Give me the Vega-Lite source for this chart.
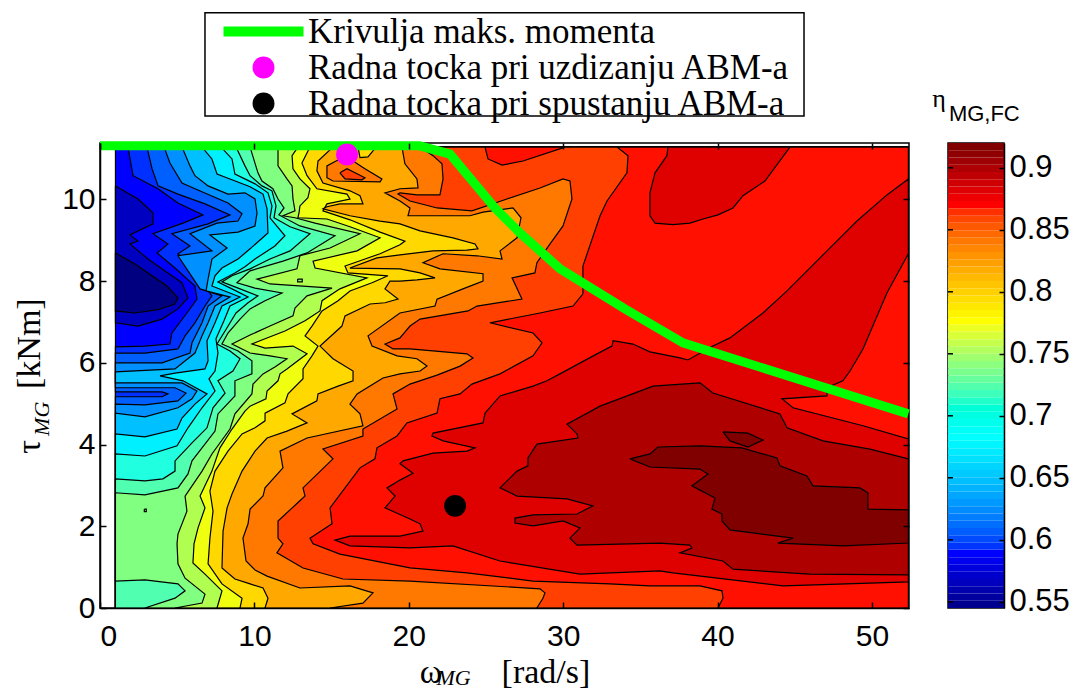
{"$schema":"https://vega.github.io/schema/vega-lite/v6.json","background":"white","padding":{"left":11,"top":11,"right":2,"bottom":5},"bounds":"flush","spacing":39,
"config":{"view":{"stroke":"black","strokeWidth":1.5},"axis":{"grid":false,"domainColor":"black","domainWidth":1.5,"tickColor":"black","tickWidth":1.5,"labelColor":"black","labelFont":"Liberation Sans","labelFontSize":30,"titleFont":"Liberation Serif","titleFontSize":34,"titleFontWeight":"normal","titleColor":"black"}},
"datasets":{
"curve":[{"w":0,"t":11.31},{"w":20.7,"t":11.31},{"w":22.67,"t":11.11},{"w":25.58,"t":9.79},{"w":27.2,"t":9.18},{"w":29.8,"t":8.3},{"w":34,"t":7.32},{"w":37.76,"t":6.49},{"w":52.36,"t":4.75}],
"points":[{"series":"Radna tocka pri uzdizanju ABM-a","w":16,"t":11.1},{"series":"Radna tocka pri spustanju ABM-a","w":23,"t":2.5}],
"barticks":[{"v":0.55},{"v":0.6},{"v":0.65},{"v":0.7},{"v":0.75},{"v":0.8},{"v":0.85},{"v":0.9}],
"bar":[{"lo":0.545,"hi":0.5509},{"lo":0.5509,"hi":0.5567},{"lo":0.5567,"hi":0.5626},{"lo":0.5626,"hi":0.5684},{"lo":0.5684,"hi":0.5743},{"lo":0.5743,"hi":0.5802},{"lo":0.5802,"hi":0.586},{"lo":0.586,"hi":0.5919},{"lo":0.5919,"hi":0.5977},{"lo":0.5977,"hi":0.6036},{"lo":0.6036,"hi":0.6095},{"lo":0.6095,"hi":0.6153},{"lo":0.6153,"hi":0.6212},{"lo":0.6212,"hi":0.627},{"lo":0.627,"hi":0.6329},{"lo":0.6329,"hi":0.6388},{"lo":0.6388,"hi":0.6446},{"lo":0.6446,"hi":0.6505},{"lo":0.6505,"hi":0.6563},{"lo":0.6563,"hi":0.6622},{"lo":0.6622,"hi":0.6681},{"lo":0.6681,"hi":0.6739},{"lo":0.6739,"hi":0.6798},{"lo":0.6798,"hi":0.6856},{"lo":0.6856,"hi":0.6915},{"lo":0.6915,"hi":0.6974},{"lo":0.6974,"hi":0.7032},{"lo":0.7032,"hi":0.7091},{"lo":0.7091,"hi":0.7149},{"lo":0.7149,"hi":0.7208},{"lo":0.7208,"hi":0.7267},{"lo":0.7267,"hi":0.7325},{"lo":0.7325,"hi":0.7384},{"lo":0.7384,"hi":0.7442},{"lo":0.7442,"hi":0.7501},{"lo":0.7501,"hi":0.756},{"lo":0.756,"hi":0.7618},{"lo":0.7618,"hi":0.7677},{"lo":0.7677,"hi":0.7735},{"lo":0.7735,"hi":0.7794},{"lo":0.7794,"hi":0.7853},{"lo":0.7853,"hi":0.7911},{"lo":0.7911,"hi":0.797},{"lo":0.797,"hi":0.8028},{"lo":0.8028,"hi":0.8087},{"lo":0.8087,"hi":0.8146},{"lo":0.8146,"hi":0.8204},{"lo":0.8204,"hi":0.8263},{"lo":0.8263,"hi":0.8321},{"lo":0.8321,"hi":0.838},{"lo":0.838,"hi":0.8439},{"lo":0.8439,"hi":0.8497},{"lo":0.8497,"hi":0.8556},{"lo":0.8556,"hi":0.8614},{"lo":0.8614,"hi":0.8673},{"lo":0.8673,"hi":0.8732},{"lo":0.8732,"hi":0.879},{"lo":0.879,"hi":0.8849},{"lo":0.8849,"hi":0.8907},{"lo":0.8907,"hi":0.8966},{"lo":0.8966,"hi":0.9025},{"lo":0.9025,"hi":0.9083},{"lo":0.9083,"hi":0.9142},{"lo":0.9142,"hi":0.92}],
"contours":[
{"p":0,"w":1,"t":0},{"p":0,"w":1,"t":11.28},{"p":0,"w":52.36,"t":11.28},{"p":0,"w":52.36,"t":0},{"p":0,"w":1,"t":0},
{"p":1,"w":1,"t":10.33},{"p":1,"w":2.46,"t":10.01},{"p":1,"w":3.43,"t":9.67},{"p":1,"w":3.43,"t":9.4},{"p":1,"w":1.94,"t":9.13},{"p":1,"w":2.46,"t":8.98},{"p":1,"w":1.94,"t":8.91},{"p":1,"w":3.11,"t":8.54},{"p":1,"w":4.4,"t":8.2},{"p":1,"w":5.31,"t":7.96},{"p":1,"w":5.7,"t":7.59},{"p":1,"w":5.05,"t":7.32},{"p":1,"w":4.02,"t":7.07},{"p":1,"w":2.46,"t":6.9},{"p":1,"w":1,"t":6.98},{"p":1,"w":1,"t":10.33},
{"p":2,"w":1,"t":8.69},{"p":2,"w":2.27,"t":8.42},{"p":2,"w":3.37,"t":8.13},{"p":2,"w":4.34,"t":7.88},{"p":2,"w":5.05,"t":7.59},{"p":2,"w":4.86,"t":7.44},{"p":2,"w":3.76,"t":7.3},{"p":2,"w":2.27,"t":7.22},{"p":2,"w":1,"t":7.27},{"p":2,"w":1,"t":8.69},
{"p":3,"w":1.81,"t":11.28},{"p":3,"w":2.14,"t":10.58},{"p":3,"w":3.76,"t":10.26},{"p":3,"w":5.05,"t":9.91},{"p":3,"w":6.67,"t":9.62},{"p":3,"w":5.38,"t":9.42},{"p":3,"w":3.43,"t":9.16},{"p":3,"w":4.4,"t":8.91},{"p":3,"w":3.69,"t":8.69},{"p":3,"w":4.86,"t":8.32},{"p":3,"w":6.15,"t":7.88},{"p":3,"w":6.28,"t":7.56},{"p":3,"w":5.63,"t":7.22},{"p":3,"w":4.66,"t":6.73},{"p":3,"w":4.53,"t":6.46},{"p":3,"w":2.91,"t":6.41},{"p":3,"w":1,"t":6.39},{"p":3,"w":1,"t":0},{"p":3,"w":52.36,"t":0},{"p":3,"w":52.36,"t":11.28},{"p":3,"w":1.81,"t":11.28},
{"p":4,"w":3.04,"t":11.28},{"p":4,"w":3.37,"t":10.75},{"p":4,"w":3.76,"t":10.33},{"p":4,"w":5.05,"t":10.13},{"p":4,"w":6.8,"t":9.89},{"p":4,"w":8.42,"t":9.62},{"p":4,"w":7,"t":9.4},{"p":4,"w":4.66,"t":9.16},{"p":4,"w":5.83,"t":8.86},{"p":4,"w":5.05,"t":8.67},{"p":4,"w":5.96,"t":8.32},{"p":4,"w":6.8,"t":7.88},{"p":4,"w":7.25,"t":7.64},{"p":4,"w":6.8,"t":7.39},{"p":4,"w":6.15,"t":6.98},{"p":4,"w":5.51,"t":6.66},{"p":4,"w":5.05,"t":6.34},{"p":4,"w":2.91,"t":6.24},{"p":4,"w":1,"t":6.24},{"p":4,"w":1,"t":5.29},{"p":4,"w":4.02,"t":5.29},{"p":4,"w":4.4,"t":5.24},{"p":4,"w":4.02,"t":5.17},{"p":4,"w":1,"t":5.17},{"p":4,"w":1,"t":0},{"p":4,"w":52.36,"t":0},{"p":4,"w":52.36,"t":11.28},{"p":4,"w":3.04,"t":11.28},
{"p":5,"w":4.15,"t":11.28},{"p":5,"w":4.53,"t":10.89},{"p":5,"w":5.31,"t":10.4},{"p":5,"w":6.15,"t":10.26},{"p":5,"w":8.29,"t":9.91},{"p":5,"w":9.2,"t":9.65},{"p":5,"w":8.94,"t":9.47},{"p":5,"w":7.58,"t":9.42},{"p":5,"w":5.83,"t":9.16},{"p":5,"w":7.25,"t":8.74},{"p":5,"w":5.05,"t":8.62},{"p":5,"w":5.7,"t":8.25},{"p":5,"w":6.48,"t":7.81},{"p":5,"w":7.9,"t":7.64},{"p":5,"w":7,"t":7.39},{"p":5,"w":6.61,"t":6.98},{"p":5,"w":5.96,"t":6.49},{"p":5,"w":5.83,"t":6.24},{"p":5,"w":4.02,"t":6},{"p":5,"w":1,"t":6},{"p":5,"w":1,"t":5.39},{"p":5,"w":4.86,"t":5.39},{"p":5,"w":5.57,"t":5.26},{"p":5,"w":5.05,"t":5.07},{"p":5,"w":2.91,"t":4.97},{"p":5,"w":1,"t":4.99},{"p":5,"w":1,"t":0},{"p":5,"w":52.36,"t":0},{"p":5,"w":52.36,"t":11.28},{"p":5,"w":4.15,"t":11.28},
{"p":6,"w":5.31,"t":11.28},{"p":6,"w":5.83,"t":10.82},{"p":6,"w":6.15,"t":10.58},{"p":6,"w":7,"t":10.33},{"p":6,"w":8.29,"t":10.13},{"p":6,"w":9.39,"t":10.16},{"p":6,"w":10.04,"t":10.01},{"p":6,"w":10.17,"t":9.67},{"p":6,"w":10.04,"t":9.35},{"p":6,"w":8.94,"t":9.2},{"p":6,"w":7.12,"t":9.13},{"p":6,"w":8.23,"t":8.81},{"p":6,"w":7.25,"t":8.54},{"p":6,"w":7,"t":8.05},{"p":6,"w":6.87,"t":7.76},{"p":6,"w":8.42,"t":7.61},{"p":6,"w":7.45,"t":7.39},{"p":6,"w":7,"t":6.98},{"p":6,"w":6.61,"t":6.66},{"p":6,"w":6.15,"t":6.24},{"p":6,"w":4.86,"t":5.85},{"p":6,"w":1,"t":5.78},{"p":6,"w":1,"t":5.51},{"p":6,"w":5.31,"t":5.51},{"p":6,"w":6.28,"t":5.31},{"p":6,"w":5.96,"t":5.12},{"p":6,"w":5.05,"t":4.9},{"p":6,"w":2.91,"t":4.68},{"p":6,"w":1,"t":4.77},{"p":6,"w":1,"t":0},{"p":6,"w":52.36,"t":0},{"p":6,"w":52.36,"t":11.28},{"p":6,"w":5.31,"t":11.28},
{"p":7,"w":6.61,"t":11.28},{"p":7,"w":7.25,"t":10.99},{"p":7,"w":7.58,"t":10.62},{"p":7,"w":8.42,"t":10.5},{"p":7,"w":9.72,"t":10.31},{"p":7,"w":10.56,"t":10.13},{"p":7,"w":10.82,"t":9.77},{"p":7,"w":10.88,"t":9.18},{"p":7,"w":9.72,"t":8.79},{"p":7,"w":8.94,"t":8.54},{"p":7,"w":7.9,"t":8.32},{"p":7,"w":7.45,"t":8.13},{"p":7,"w":7.25,"t":7.88},{"p":7,"w":9.07,"t":7.61},{"p":7,"w":7.9,"t":7.39},{"p":7,"w":7.45,"t":6.98},{"p":7,"w":6.93,"t":6.54},{"p":7,"w":7,"t":6.05},{"p":7,"w":6.8,"t":5.85},{"p":7,"w":4.86,"t":5.75},{"p":7,"w":3.89,"t":5.68},{"p":7,"w":5.38,"t":5.56},{"p":7,"w":6.93,"t":5.24},{"p":7,"w":6.15,"t":4.99},{"p":7,"w":5.31,"t":4.65},{"p":7,"w":4.99,"t":4.38},{"p":7,"w":2.91,"t":4.19},{"p":7,"w":1,"t":4.26},{"p":7,"w":1,"t":0},{"p":7,"w":52.36,"t":0},{"p":7,"w":52.36,"t":11.28},{"p":7,"w":6.61,"t":11.28},
{"p":8,"w":7.84,"t":11.28},{"p":8,"w":8.55,"t":10.99},{"p":8,"w":8.74,"t":10.62},{"p":8,"w":10.04,"t":10.38},{"p":8,"w":10.88,"t":10.16},{"p":8,"w":11.14,"t":9.84},{"p":8,"w":11.01,"t":9.55},{"p":8,"w":11.98,"t":9.11},{"p":8,"w":11.33,"t":8.86},{"p":8,"w":10.04,"t":8.54},{"p":8,"w":9.39,"t":8.35},{"p":8,"w":8.74,"t":8.2},{"p":8,"w":7.64,"t":7.98},{"p":8,"w":8.55,"t":7.81},{"p":8,"w":9.59,"t":7.61},{"p":8,"w":8.42,"t":7.39},{"p":8,"w":8.03,"t":7.03},{"p":8,"w":7.51,"t":6.59},{"p":8,"w":7.64,"t":6.24},{"p":8,"w":7.45,"t":5.8},{"p":8,"w":7.06,"t":5.61},{"p":8,"w":7.45,"t":5.31},{"p":8,"w":6.61,"t":4.9},{"p":8,"w":5.7,"t":4.41},{"p":8,"w":4.99,"t":3.97},{"p":8,"w":2.91,"t":3.72},{"p":8,"w":1,"t":3.77},{"p":8,"w":1,"t":0},{"p":8,"w":52.36,"t":0},{"p":8,"w":52.36,"t":11.28},{"p":8,"w":7.84,"t":11.28},
{"p":9,"w":8.81,"t":11.28},{"p":9,"w":9.39,"t":10.82},{"p":9,"w":9.72,"t":10.58},{"p":9,"w":10.49,"t":10.33},{"p":9,"w":11.14,"t":10.21},{"p":9,"w":11.4,"t":9.84},{"p":9,"w":11.27,"t":9.55},{"p":9,"w":12.31,"t":9.33},{"p":9,"w":13.6,"t":9.16},{"p":9,"w":12.31,"t":8.74},{"p":9,"w":11.01,"t":8.54},{"p":9,"w":9.72,"t":8.3},{"p":9,"w":8.55,"t":8.13},{"p":9,"w":7.9,"t":7.98},{"p":9,"w":8.74,"t":7.86},{"p":9,"w":10.23,"t":7.64},{"p":9,"w":9.59,"t":7.47},{"p":9,"w":8.81,"t":7.22},{"p":9,"w":8.1,"t":6.78},{"p":9,"w":7.58,"t":6.46},{"p":9,"w":8.42,"t":6.29},{"p":9,"w":9.07,"t":6.1},{"p":9,"w":8.61,"t":5.8},{"p":9,"w":7.64,"t":5.56},{"p":9,"w":8.1,"t":5.26},{"p":9,"w":7.32,"t":4.9},{"p":9,"w":6.93,"t":4.41},{"p":9,"w":5.96,"t":4.04},{"p":9,"w":4.86,"t":3.6},{"p":9,"w":4.86,"t":3.35},{"p":9,"w":4.08,"t":3.16},{"p":9,"w":2.91,"t":3.11},{"p":9,"w":1,"t":3.16},{"p":9,"w":1,"t":0},{"p":9,"w":52.36,"t":0},{"p":9,"w":52.36,"t":11.28},{"p":9,"w":8.81,"t":11.28},
{"p":10,"w":9.72,"t":11.28},{"p":10,"w":10.23,"t":10.65},{"p":10,"w":10.49,"t":10.45},{"p":10,"w":11.2,"t":10.26},{"p":10,"w":11.53,"t":10.01},{"p":10,"w":11.92,"t":9.79},{"p":10,"w":11.59,"t":9.62},{"p":10,"w":12.95,"t":9.35},{"p":10,"w":15.22,"t":9.11},{"p":10,"w":13.41,"t":8.69},{"p":10,"w":11.85,"t":8.49},{"p":10,"w":9.72,"t":8.25},{"p":10,"w":8.87,"t":7.96},{"p":10,"w":10.04,"t":7.83},{"p":10,"w":11.79,"t":7.71},{"p":10,"w":10.69,"t":7.52},{"p":10,"w":9.72,"t":7.32},{"p":10,"w":9.07,"t":7.07},{"p":10,"w":8.29,"t":6.73},{"p":10,"w":7.9,"t":6.46},{"p":10,"w":8.94,"t":6.29},{"p":10,"w":9.84,"t":6.05},{"p":10,"w":9.84,"t":5.73},{"p":10,"w":8.74,"t":5.56},{"p":10,"w":8.74,"t":5.19},{"p":10,"w":7.64,"t":4.75},{"p":10,"w":7.45,"t":4.33},{"p":10,"w":5.96,"t":3.6},{"p":10,"w":5.7,"t":3.28},{"p":10,"w":5.05,"t":2.94},{"p":10,"w":2.91,"t":2.77},{"p":10,"w":1,"t":2.82},{"p":10,"w":1,"t":0.66},{"p":10,"w":2.91,"t":0.69},{"p":10,"w":5.05,"t":0.59},{"p":10,"w":5.51,"t":0.42},{"p":10,"w":4.86,"t":0.24},{"p":10,"w":2.91,"t":0},{"p":10,"w":52.36,"t":0},{"p":10,"w":52.36,"t":11.28},{"p":10,"w":9.72,"t":11.28},
{"p":11,"w":11.53,"t":11.28},{"p":11,"w":11.53,"t":10.82},{"p":11,"w":12.11,"t":10.5},{"p":11,"w":12.44,"t":10.33},{"p":11,"w":12.5,"t":10.01},{"p":11,"w":12.63,"t":9.72},{"p":11,"w":11.85,"t":9.6},{"p":11,"w":12.63,"t":9.55},{"p":11,"w":13.93,"t":9.42},{"p":11,"w":16.84,"t":9.16},{"p":11,"w":14.9,"t":8.81},{"p":11,"w":12.95,"t":8.62},{"p":11,"w":12.76,"t":8.3},{"p":11,"w":10.17,"t":8.05},{"p":11,"w":11.01,"t":7.93},{"p":11,"w":15.03,"t":7.83},{"p":11,"w":13.41,"t":7.64},{"p":11,"w":12.63,"t":7.34},{"p":11,"w":12.5,"t":7.15},{"p":11,"w":11.01,"t":6.9},{"p":11,"w":9.72,"t":6.68},{"p":11,"w":8.55,"t":6.46},{"p":11,"w":9.72,"t":6.24},{"p":11,"w":11.01,"t":6.17},{"p":11,"w":12.11,"t":6.1},{"p":11,"w":11.33,"t":5.9},{"p":11,"w":10.56,"t":5.73},{"p":11,"w":9.91,"t":5.48},{"p":11,"w":9.84,"t":5.24},{"p":11,"w":8.74,"t":4.75},{"p":11,"w":8.42,"t":4.38},{"p":11,"w":7.25,"t":3.77},{"p":11,"w":6.61,"t":3.35},{"p":11,"w":5.51,"t":2.74},{"p":11,"w":5.63,"t":2.37},{"p":11,"w":5.05,"t":1.81},{"p":11,"w":4.99,"t":1.57},{"p":11,"w":5.05,"t":1.08},{"p":11,"w":5.51,"t":0.73},{"p":11,"w":6.8,"t":0.34},{"p":11,"w":6.61,"t":0.12},{"p":11,"w":4.86,"t":0},{"p":11,"w":52.36,"t":0},{"p":11,"w":52.36,"t":11.28},{"p":11,"w":11.53,"t":11.28},
{"p":12,"w":12.82,"t":11.28},{"p":12,"w":12.44,"t":11.07},{"p":12,"w":12.5,"t":10.75},{"p":12,"w":12.95,"t":10.5},{"p":12,"w":13.6,"t":10.26},{"p":12,"w":13.47,"t":10.04},{"p":12,"w":12.95,"t":9.84},{"p":12,"w":12.89,"t":9.67},{"p":12,"w":12.82,"t":9.55},{"p":12,"w":14.7,"t":9.52},{"p":12,"w":16.19,"t":9.33},{"p":12,"w":18.14,"t":9.06},{"p":12,"w":16.65,"t":8.74},{"p":12,"w":13.8,"t":8.49},{"p":12,"w":13.93,"t":8.32},{"p":12,"w":17.29,"t":8.08},{"p":12,"w":15.54,"t":7.81},{"p":12,"w":14.38,"t":7.52},{"p":12,"w":14.25,"t":7.27},{"p":12,"w":13.28,"t":7.03},{"p":12,"w":11.98,"t":6.78},{"p":12,"w":10.69,"t":6.59},{"p":12,"w":9.84,"t":6.46},{"p":12,"w":10.69,"t":6.36},{"p":12,"w":12.5,"t":6.41},{"p":12,"w":13.41,"t":6.22},{"p":12,"w":12.11,"t":5.85},{"p":12,"w":11.66,"t":5.73},{"p":12,"w":11.53,"t":5.56},{"p":12,"w":10.82,"t":5.31},{"p":12,"w":10.75,"t":5.12},{"p":12,"w":9.72,"t":4.94},{"p":12,"w":9.39,"t":4.82},{"p":12,"w":8.55,"t":4.38},{"p":12,"w":7.77,"t":3.92},{"p":12,"w":7.25,"t":3.35},{"p":12,"w":6.48,"t":2.74},{"p":12,"w":6.8,"t":2.45},{"p":12,"w":6.35,"t":1.96},{"p":12,"w":6.09,"t":1.57},{"p":12,"w":6.02,"t":1.1},{"p":12,"w":6.8,"t":0.83},{"p":12,"w":7.9,"t":0.42},{"p":12,"w":7.58,"t":0},{"p":12,"w":52.36,"t":0},{"p":12,"w":52.36,"t":11.28},{"p":12,"w":12.82,"t":11.28},
{"p":13,"w":13.6,"t":11.28},{"p":13,"w":13.08,"t":10.89},{"p":13,"w":13.41,"t":10.58},{"p":13,"w":14.05,"t":10.26},{"p":13,"w":16,"t":10.13},{"p":13,"w":16.19,"t":10.01},{"p":13,"w":14.7,"t":9.89},{"p":13,"w":14.44,"t":9.72},{"p":13,"w":16.19,"t":9.5},{"p":13,"w":18.14,"t":9.2},{"p":13,"w":19.75,"t":8.98},{"p":13,"w":19.43,"t":8.89},{"p":13,"w":18.14,"t":8.67},{"p":13,"w":15.87,"t":8.37},{"p":13,"w":16.06,"t":8.2},{"p":13,"w":18.65,"t":8.13},{"p":13,"w":17.62,"t":7.96},{"p":13,"w":16.19,"t":7.76},{"p":13,"w":15.42,"t":7.52},{"p":13,"w":14.38,"t":7.27},{"p":13,"w":13.73,"t":6.9},{"p":13,"w":13.28,"t":6.66},{"p":13,"w":14.12,"t":6.41},{"p":13,"w":13.73,"t":6.17},{"p":13,"w":13.15,"t":5.85},{"p":13,"w":13.15,"t":5.61},{"p":13,"w":12.18,"t":5.24},{"p":13,"w":11.98,"t":5.02},{"p":13,"w":10.69,"t":4.77},{"p":13,"w":10.69,"t":4.58},{"p":13,"w":10.04,"t":4.41},{"p":13,"w":9.2,"t":4.26},{"p":13,"w":8.29,"t":3.84},{"p":13,"w":7.45,"t":3.35},{"p":13,"w":7.12,"t":2.86},{"p":13,"w":7.32,"t":2.37},{"p":13,"w":7.12,"t":1.71},{"p":13,"w":7,"t":1.08},{"p":13,"w":7.9,"t":0.59},{"p":13,"w":9.2,"t":0.24},{"p":13,"w":9.07,"t":0},{"p":13,"w":52.36,"t":0},{"p":13,"w":52.36,"t":11.28},{"p":13,"w":13.6,"t":11.28},
{"p":14,"w":17.88,"t":11.28},{"p":14,"w":17.36,"t":11.04},{"p":14,"w":16.84,"t":11.02},{"p":14,"w":16.71,"t":11.28},{"p":14,"w":15.09,"t":11.28},{"p":14,"w":14.12,"t":10.94},{"p":14,"w":14.05,"t":10.7},{"p":14,"w":14.44,"t":10.4},{"p":14,"w":16.19,"t":10.21},{"p":14,"w":16.84,"t":10.09},{"p":14,"w":17.03,"t":9.89},{"p":14,"w":15.54,"t":9.89},{"p":14,"w":14.7,"t":9.82},{"p":14,"w":14.44,"t":9.77},{"p":14,"w":16.19,"t":9.6},{"p":14,"w":18.14,"t":9.47},{"p":14,"w":19.43,"t":9.4},{"p":14,"w":20.73,"t":9.23},{"p":14,"w":22.86,"t":9.06},{"p":14,"w":24.29,"t":8.91},{"p":14,"w":24.48,"t":8.79},{"p":14,"w":23.77,"t":8.76},{"p":14,"w":21.57,"t":8.74},{"p":14,"w":19.43,"t":8.64},{"p":14,"w":17.94,"t":8.57},{"p":14,"w":16.19,"t":8.32},{"p":14,"w":19.43,"t":8.3},{"p":14,"w":20.73,"t":8.2},{"p":14,"w":21.7,"t":8.08},{"p":14,"w":20.53,"t":8.03},{"p":14,"w":19.43,"t":8},{"p":14,"w":18.78,"t":8},{"p":14,"w":18.46,"t":7.81},{"p":14,"w":19.3,"t":7.56},{"p":14,"w":18.46,"t":7.47},{"p":14,"w":17.49,"t":7.44},{"p":14,"w":15.87,"t":7.15},{"p":14,"w":15.67,"t":6.9},{"p":14,"w":14.25,"t":6.41},{"p":14,"w":15.09,"t":6.1},{"p":14,"w":16.39,"t":5.8},{"p":14,"w":16.39,"t":5.56},{"p":14,"w":15.42,"t":5.43},{"p":14,"w":14.12,"t":5.24},{"p":14,"w":14.05,"t":5.07},{"p":14,"w":12.44,"t":4.75},{"p":14,"w":13.41,"t":4.53},{"p":14,"w":12.11,"t":4.33},{"p":14,"w":10.82,"t":4.16},{"p":14,"w":10.04,"t":3.84},{"p":14,"w":9.2,"t":3.35},{"p":14,"w":8.55,"t":2.79},{"p":14,"w":8.23,"t":2.45},{"p":14,"w":7.97,"t":1.88},{"p":14,"w":7.9,"t":0.98},{"p":14,"w":8.74,"t":0.71},{"p":14,"w":9.72,"t":0.59},{"p":14,"w":10.56,"t":0.49},{"p":14,"w":10.88,"t":0.24},{"p":14,"w":10.69,"t":0},{"p":14,"w":52.36,"t":0},{"p":14,"w":52.36,"t":11.28},{"p":14,"w":17.88,"t":11.28},
{"p":15,"w":19.56,"t":11.28},{"p":15,"w":19.75,"t":10.87},{"p":15,"w":20.53,"t":10.5},{"p":15,"w":20.6,"t":10.28},{"p":15,"w":19.43,"t":10.26},{"p":15,"w":18.46,"t":10.16},{"p":15,"w":19.43,"t":9.96},{"p":15,"w":20.08,"t":9.79},{"p":15,"w":19.95,"t":9.6},{"p":15,"w":23.96,"t":9.6},{"p":15,"w":24.81,"t":9.69},{"p":15,"w":26.75,"t":9.79},{"p":15,"w":27.27,"t":9.55},{"p":15,"w":27.01,"t":9.06},{"p":15,"w":25.91,"t":8.74},{"p":15,"w":26.04,"t":8.54},{"p":15,"w":24.42,"t":8.62},{"p":15,"w":22.22,"t":8.67},{"p":15,"w":20.92,"t":8.45},{"p":15,"w":22.02,"t":8.3},{"p":15,"w":24.81,"t":8.18},{"p":15,"w":24.81,"t":8},{"p":15,"w":23.51,"t":7.81},{"p":15,"w":21.83,"t":7.56},{"p":15,"w":21.7,"t":7.39},{"p":15,"w":19.43,"t":7.22},{"p":15,"w":17.36,"t":6.66},{"p":15,"w":17.62,"t":6.41},{"p":15,"w":19.24,"t":6.17},{"p":15,"w":20.53,"t":6.1},{"p":15,"w":21.18,"t":5.92},{"p":15,"w":20.73,"t":5.8},{"p":15,"w":19.43,"t":5.73},{"p":15,"w":18.33,"t":5.63},{"p":15,"w":16.65,"t":5.24},{"p":15,"w":16.19,"t":4.99},{"p":15,"w":16.84,"t":4.75},{"p":15,"w":17.03,"t":4.46},{"p":15,"w":13.41,"t":4.16},{"p":15,"w":11.66,"t":3.84},{"p":15,"w":11.85,"t":3.43},{"p":15,"w":10.69,"t":2.94},{"p":15,"w":10.56,"t":2.74},{"p":15,"w":9.72,"t":2.42},{"p":15,"w":9.59,"t":2.06},{"p":15,"w":9.26,"t":1.71},{"p":15,"w":9.46,"t":1.15},{"p":15,"w":10.04,"t":0.93},{"p":15,"w":10.82,"t":0.78},{"p":15,"w":12.95,"t":0.49},{"p":15,"w":16.19,"t":0.54},{"p":15,"w":17.68,"t":0.37},{"p":15,"w":17.03,"t":0.12},{"p":15,"w":14.9,"t":0},{"p":15,"w":52.36,"t":0},{"p":15,"w":52.36,"t":11.28},{"p":15,"w":19.56,"t":11.28},
{"p":16,"w":15.29,"t":10.94},{"p":16,"w":14.7,"t":10.82},{"p":16,"w":14.7,"t":10.53},{"p":16,"w":15.09,"t":10.45},{"p":16,"w":18.14,"t":10.43},{"p":16,"w":18.26,"t":10.5},{"p":16,"w":17.16,"t":10.75},{"p":16,"w":16.39,"t":10.94},{"p":16,"w":15.87,"t":11.02},{"p":16,"w":15.29,"t":10.94},
{"p":17,"w":15.54,"t":10.65},{"p":17,"w":16,"t":10.75},{"p":17,"w":17.16,"t":10.53},{"p":17,"w":16.97,"t":10.48},{"p":17,"w":15.87,"t":10.5},{"p":17,"w":15.54,"t":10.65},
{"p":18,"w":20.73,"t":11.28},{"p":18,"w":21.57,"t":11.07},{"p":18,"w":22.15,"t":10.87},{"p":18,"w":22.22,"t":10.5},{"p":18,"w":22.02,"t":10.11},{"p":18,"w":20.53,"t":10.11},{"p":18,"w":19.43,"t":10.16},{"p":18,"w":19.3,"t":10.13},{"p":18,"w":20.08,"t":9.96},{"p":18,"w":21.83,"t":9.79},{"p":18,"w":24.09,"t":9.72},{"p":18,"w":26.36,"t":10.01},{"p":18,"w":28.5,"t":10.28},{"p":18,"w":29.99,"t":10.5},{"p":18,"w":30.44,"t":10.45},{"p":18,"w":30.57,"t":10.01},{"p":18,"w":29.99,"t":9.35},{"p":18,"w":29.15,"t":8.91},{"p":18,"w":28.3,"t":8.45},{"p":18,"w":28.17,"t":8.2},{"p":18,"w":26.69,"t":8.08},{"p":18,"w":27.33,"t":7.56},{"p":18,"w":24.42,"t":7.39},{"p":18,"w":23.84,"t":7.27},{"p":18,"w":20.73,"t":7.07},{"p":18,"w":20.08,"t":6.9},{"p":18,"w":19.43,"t":6.61},{"p":18,"w":18.46,"t":6.46},{"p":18,"w":18.98,"t":6.34},{"p":18,"w":20.08,"t":6.34},{"p":18,"w":23.77,"t":6.22},{"p":18,"w":24.16,"t":6.12},{"p":18,"w":23.32,"t":5.92},{"p":18,"w":21.83,"t":5.7},{"p":18,"w":20.08,"t":5.48},{"p":18,"w":18.98,"t":5.24},{"p":18,"w":19.24,"t":4.87},{"p":18,"w":17.03,"t":4.38},{"p":18,"w":17.03,"t":4.21},{"p":18,"w":14.44,"t":3.89},{"p":18,"w":15.09,"t":3.65},{"p":18,"w":13.15,"t":2.94},{"p":18,"w":13.28,"t":2.74},{"p":18,"w":11.53,"t":2.13},{"p":18,"w":11.53,"t":1.71},{"p":18,"w":11.85,"t":1.57},{"p":18,"w":11.46,"t":1.35},{"p":18,"w":13.15,"t":0.98},{"p":18,"w":15.74,"t":0.71},{"p":18,"w":20.08,"t":0.66},{"p":18,"w":28.5,"t":0.47},{"p":18,"w":28.82,"t":0.37},{"p":18,"w":28.69,"t":0.24},{"p":18,"w":28.3,"t":0},{"p":18,"w":52.36,"t":0},{"p":18,"w":52.36,"t":11.28},{"p":18,"w":20.73,"t":11.28},
{"p":19,"w":24.94,"t":11.28},{"p":19,"w":25.13,"t":10.99},{"p":19,"w":26.04,"t":10.84},{"p":19,"w":27.4,"t":10.94},{"p":19,"w":30.12,"t":11.28},{"p":19,"w":24.94,"t":11.28},
{"p":20,"w":33.49,"t":11.28},{"p":20,"w":34.2,"t":11.07},{"p":20,"w":34.13,"t":10.65},{"p":20,"w":32.84,"t":9.96},{"p":20,"w":32.39,"t":9.6},{"p":20,"w":31.28,"t":8.37},{"p":20,"w":31.28,"t":7.69},{"p":20,"w":30.64,"t":7.39},{"p":20,"w":28.5,"t":7.22},{"p":20,"w":25.26,"t":6.98},{"p":20,"w":28.05,"t":6.73},{"p":20,"w":28.63,"t":6.49},{"p":20,"w":28.05,"t":6.17},{"p":20,"w":25.91,"t":5.73},{"p":20,"w":24.09,"t":5.48},{"p":20,"w":23.32,"t":5.24},{"p":20,"w":22.02,"t":5.12},{"p":20,"w":21.83,"t":4.77},{"p":20,"w":19.88,"t":4.53},{"p":20,"w":19.24,"t":4.21},{"p":20,"w":17.94,"t":3.92},{"p":20,"w":17.81,"t":3.65},{"p":20,"w":16.84,"t":3.43},{"p":20,"w":14.9,"t":2.45},{"p":20,"w":15.03,"t":2.06},{"p":20,"w":13.6,"t":1.71},{"p":20,"w":13.8,"t":1.57},{"p":20,"w":15.54,"t":1.32},{"p":20,"w":20.08,"t":0.98},{"p":20,"w":23.77,"t":0.86},{"p":20,"w":28.05,"t":0.66},{"p":20,"w":33.03,"t":0.59},{"p":20,"w":35.62,"t":0.54},{"p":20,"w":38.86,"t":0.54},{"p":20,"w":40.29,"t":0.42},{"p":20,"w":40.35,"t":0.24},{"p":20,"w":40.03,"t":0},{"p":20,"w":52.36,"t":0},{"p":20,"w":52.36,"t":11.28},{"p":20,"w":33.49,"t":11.28},
{"p":21,"w":36.79,"t":11.28},{"p":21,"w":36.72,"t":11.07},{"p":21,"w":35.95,"t":10.65},{"p":21,"w":35.62,"t":10.16},{"p":21,"w":35.62,"t":9.6},{"p":21,"w":35.95,"t":9.42},{"p":21,"w":37.11,"t":9.38},{"p":21,"w":38.21,"t":9.42},{"p":21,"w":39.06,"t":9.52},{"p":21,"w":40.03,"t":9.62},{"p":21,"w":41,"t":9.79},{"p":21,"w":41.65,"t":10.09},{"p":21,"w":43.07,"t":10.45},{"p":21,"w":44.69,"t":11.28},{"p":21,"w":36.79,"t":11.28},
{"p":22,"w":52.36,"t":10.5},{"p":22,"w":50.97,"t":10.11},{"p":22,"w":49.03,"t":9.47},{"p":22,"w":47.09,"t":8.74},{"p":22,"w":44.5,"t":7.76},{"p":22,"w":42.94,"t":7.22},{"p":22,"w":40.8,"t":6.61},{"p":22,"w":39.7,"t":6.41},{"p":22,"w":38.08,"t":6.07},{"p":22,"w":37.57,"t":6.12},{"p":22,"w":35.62,"t":6.27},{"p":22,"w":34.52,"t":6.46},{"p":22,"w":33.23,"t":6.54},{"p":22,"w":33.16,"t":6.41},{"p":22,"w":32.19,"t":6.22},{"p":22,"w":29.79,"t":5.73},{"p":22,"w":28.95,"t":5.56},{"p":22,"w":28.05,"t":5.43},{"p":22,"w":25.91,"t":5.19},{"p":22,"w":24.94,"t":4.77},{"p":22,"w":24.81,"t":4.53},{"p":22,"w":21.57,"t":4.28},{"p":22,"w":21.5,"t":4.21},{"p":22,"w":22.22,"t":4.09},{"p":22,"w":24.29,"t":3.92},{"p":22,"w":23.77,"t":3.84},{"p":22,"w":21.57,"t":3.79},{"p":22,"w":19.63,"t":3.6},{"p":22,"w":19.43,"t":3.53},{"p":22,"w":20.27,"t":3.3},{"p":22,"w":19.43,"t":3.13},{"p":22,"w":18.59,"t":2.94},{"p":22,"w":19.11,"t":2.74},{"p":22,"w":18.46,"t":2.45},{"p":22,"w":20.08,"t":2.18},{"p":22,"w":20.73,"t":2.06},{"p":22,"w":20.92,"t":1.88},{"p":22,"w":19.43,"t":1.76},{"p":22,"w":16.19,"t":1.76},{"p":22,"w":15.22,"t":1.66},{"p":22,"w":16.19,"t":1.52},{"p":22,"w":20.08,"t":1.47},{"p":22,"w":22.86,"t":1.52},{"p":22,"w":25.91,"t":1.15},{"p":22,"w":31.09,"t":0.83},{"p":22,"w":36.27,"t":0.91},{"p":22,"w":37.11,"t":0.86},{"p":22,"w":44.24,"t":0.54},{"p":22,"w":52.36,"t":0.64},{"p":22,"w":52.36,"t":4.14},{"p":22,"w":49.42,"t":4.46},{"p":22,"w":44.89,"t":4.9},{"p":22,"w":44.17,"t":5.12},{"p":22,"w":47.09,"t":5.19},{"p":22,"w":47.09,"t":5.39},{"p":22,"w":48.12,"t":5.56},{"p":22,"w":48.58,"t":5.8},{"p":22,"w":49.42,"t":6.34},{"p":22,"w":50.97,"t":7.71},{"p":22,"w":52.36,"t":8.67},{"p":22,"w":52.36,"t":10.5},
{"p":23,"w":52.36,"t":3.65},{"p":23,"w":49.87,"t":3.89},{"p":23,"w":46.83,"t":4.09},{"p":23,"w":44.5,"t":4.41},{"p":23,"w":44.04,"t":4.75},{"p":23,"w":39.7,"t":5.26},{"p":23,"w":38.86,"t":5.51},{"p":23,"w":35.82,"t":5.43},{"p":23,"w":32.39,"t":4.94},{"p":23,"w":30.25,"t":4.5},{"p":23,"w":30.9,"t":4.26},{"p":23,"w":30.96,"t":4.16},{"p":23,"w":28.3,"t":4.01},{"p":23,"w":27.72,"t":3.67},{"p":23,"w":27.72,"t":3.48},{"p":23,"w":27.01,"t":3.35},{"p":23,"w":25.91,"t":2.94},{"p":23,"w":27.01,"t":2.74},{"p":23,"w":30.25,"t":2.67},{"p":23,"w":31.93,"t":2.5},{"p":23,"w":30.9,"t":2.3},{"p":23,"w":28.05,"t":2.28},{"p":23,"w":26.88,"t":2.2},{"p":23,"w":26.88,"t":2.08},{"p":23,"w":28.05,"t":2.01},{"p":23,"w":29.99,"t":2.13},{"p":23,"w":31.09,"t":1.96},{"p":23,"w":30.44,"t":1.71},{"p":23,"w":30.9,"t":1.54},{"p":23,"w":36.27,"t":1.59},{"p":23,"w":38.21,"t":1.54},{"p":23,"w":38.34,"t":1.47},{"p":23,"w":37.57,"t":1.35},{"p":23,"w":40.35,"t":1.15},{"p":23,"w":41,"t":0.95},{"p":23,"w":45.99,"t":0.83},{"p":23,"w":52.36,"t":0.81},{"p":23,"w":52.36,"t":3.65},
{"p":24,"w":34.33,"t":3.65},{"p":24,"w":35.62,"t":3.77},{"p":24,"w":36.14,"t":3.94},{"p":24,"w":38.86,"t":3.97},{"p":24,"w":41.58,"t":3.92},{"p":24,"w":43.85,"t":3.67},{"p":24,"w":44.04,"t":3.48},{"p":24,"w":45.79,"t":3.23},{"p":24,"w":46.18,"t":2.99},{"p":24,"w":49.22,"t":2.94},{"p":24,"w":49.74,"t":2.82},{"p":24,"w":49.74,"t":2.42},{"p":24,"w":52.36,"t":2.4},{"p":24,"w":52.36,"t":1.59},{"p":24,"w":48.12,"t":1.52},{"p":24,"w":43.91,"t":1.59},{"p":24,"w":44.89,"t":1.71},{"p":24,"w":40.8,"t":1.91},{"p":24,"w":40.29,"t":2.13},{"p":24,"w":40.29,"t":2.3},{"p":24,"w":39.64,"t":2.42},{"p":24,"w":39.83,"t":2.69},{"p":24,"w":38.34,"t":2.99},{"p":24,"w":39.38,"t":3.28},{"p":24,"w":38.86,"t":3.4},{"p":24,"w":35.62,"t":3.45},{"p":24,"w":34.33,"t":3.65},
{"p":25,"w":40.35,"t":4.31},{"p":25,"w":41.97,"t":4.28},{"p":25,"w":42.94,"t":4.11},{"p":25,"w":41.97,"t":3.94},{"p":25,"w":40.8,"t":4.09},{"p":25,"w":40.35,"t":4.31},
{"p":26,"w":2.87,"t":2.42},{"p":26,"w":3,"t":2.42},{"p":26,"w":3,"t":2.36},{"p":26,"w":2.87,"t":2.36},{"p":26,"w":2.87,"t":2.42},
{"p":27,"w":12.8,"t":8.05},{"p":27,"w":13.1,"t":8.05},{"p":27,"w":13.1,"t":7.98},{"p":27,"w":12.8,"t":7.98},{"p":27,"w":12.8,"t":8.05}
]},
"hconcat":[
{"width":809,"height":465,"resolve":{"axis":{"x":"independent","y":"independent"}},
"layer":[
{"data":{"name":"contours"},"transform":[{"window":[{"op":"row_number","as":"i"}]}],
"mark":{"type":"line","stroke":"black","strokeWidth":1.2},
"encoding":{
"x":{"field":"w","type":"quantitative","scale":{"domain":[0,52.4],"nice":false},"axis":{"orient":"bottom","values":[0,10,20,30,40,50],"tickSize":-6,"labelPadding":19,"title":"ω\u00a0\u00a0\u00a0\u00a0\u00a0\u00a0\u00a0[rad/s]","titlePadding":4,"zindex":1}},
"y":{"field":"t","type":"quantitative","scale":{"domain":[0,11.38],"nice":false},"axis":{"orient":"left","values":[0,2,4,6,8,10],"tickSize":-6,"labelPadding":11,"title":"τ\u00a0\u00a0\u00a0\u00a0\u00a0\u00a0[kNm]","titlePadding":15,"zindex":1}},
"fill":{"field":"p","type":"nominal","legend":null,"scale":{"domain":[0,1,2,3,4,5,6,7,8,9,10,11,12,13,14,15,16,17,18,19,20,21,22,23,24,25,26,27],"range":["#0000ff","#0000c0","#000080","#0030ff","#0060ff","#0090ff","#00c0ff","#00f0ff","#20ffdf","#50ffaf","#80ff80","#b0ff50","#f0ff10","#ffd800","#ffa800","#ff7800","#ff7800","#ff4000","#ff4000","#ff1000","#ff1000","#df0000","#df0000","#af0000","#800000","#800000","#80ff80","#80ff80"]}},
"order":{"field":"i","type":"quantitative"}}},
{"data":{"name":"curve"},"mark":{"type":"line","stroke":"#00ff00","strokeWidth":9},
"encoding":{
"x":{"field":"w","type":"quantitative","scale":{"domain":[0,52.4],"nice":false},"axis":{"orient":"top","values":[0,10,20,30,40,50],"tickSize":-6,"labels":false,"domain":false,"title":null,"zindex":1}},
"y":{"field":"t","type":"quantitative","scale":{"domain":[0,11.38],"nice":false},"axis":{"orient":"right","values":[0,2,4,6,8,10],"tickSize":-6,"labels":false,"domain":false,"title":null,"zindex":1}}}},
{"data":{"values":[{}]},"mark":{"type":"rect","fill":"white","stroke":"black","strokeWidth":1.5},
"encoding":{"x":{"datum":6.8,"type":"quantitative","axis":null,"scale":{"domain":[0,52.4],"nice":false}},"x2":{"datum":45.6},"y":{"datum":14.57,"type":"quantitative","axis":null,"scale":{"domain":[0,11.38],"nice":false}},"y2":{"datum":12.04}}},
{"data":{"name":"points"},"mark":{"type":"point","filled":true,"opacity":1},
"encoding":{
"x":{"field":"w","type":"quantitative","axis":null,"scale":{"domain":[0,52.4],"nice":false}},
"y":{"field":"t","type":"quantitative","axis":null,"scale":{"domain":[0,11.38],"nice":false}},
"color":{"field":"series","type":"nominal","title":null,"scale":{"domain":["Krivulja maks. momenta","Radna tocka pri uzdizanju ABM-a","Radna tocka pri spustanju ABM-a"],"range":["#00ff00","#ff00ff","#000000"]},"legend":{"orient":"none","legendX":146,"legendY":-129,"title":null,"padding":0,"zindex":1,"labelFont":"Liberation Serif","labelFontSize":35,"labelColor":"black","labelLimit":800,"symbolStrokeWidth":0,"rowPadding":-7,"labelOffset":27}},
"shape":{"field":"series","type":"nominal","title":null,"scale":{"domain":["Krivulja maks. momenta","Radna tocka pri uzdizanju ABM-a","Radna tocka pri spustanju ABM-a"],"range":["M-2.667,-0.333H2.667V0.333H-2.667Z","circle","circle"]}},
"size":{"field":"series","type":"nominal","title":null,"scale":{"type":"ordinal","domain":["Krivulja maks. momenta","Radna tocka pri uzdizanju ABM-a","Radna tocka pri spustanju ABM-a"],"range":[900,480,480]}}}},
{"mark":{"type":"text","text":"MG","font":"Liberation Serif","fontStyle":"italic","fontSize":22,"color":"black"},"data":{"values":[{}]},
"encoding":{"x":{"datum":22.9,"type":"quantitative","axis":null,"scale":{"domain":[0,52.4],"nice":false}},"y":{"datum":-1.72,"type":"quantitative","axis":null,"scale":{"domain":[0,11.38],"nice":false}}}},
{"mark":{"type":"text","text":"MG","font":"Liberation Serif","fontStyle":"italic","fontSize":22,"color":"black","angle":270},"data":{"values":[{}]},
"encoding":{"x":{"datum":-3.76,"type":"quantitative","axis":null,"scale":{"domain":[0,52.4],"nice":false}},"y":{"datum":4.63,"type":"quantitative","axis":null,"scale":{"domain":[0,11.38],"nice":false}}}}
]},
{"width":56,"height":465,
"title":{"text":"η","subtitle":"\u200b\u00a0\u00a0\u2009MG,FC","anchor":"start","dx":-15,"offset":18,"font":"Liberation Serif","fontSize":26,"fontWeight":"normal","color":"black","subtitleFont":"Liberation Sans","subtitleFontSize":22,"subtitleColor":"black","subtitlePadding":-8},
"layer":[
{"data":{"name":"bar"},"mark":{"type":"rect"},"encoding":{
"y":{"field":"lo","type":"quantitative","scale":{"domain":[0.545,0.92],"nice":false,"zero":false},"axis":{"orient":"right","values":[0.55,0.6,0.65,0.7,0.75,0.8,0.85,0.9],"format":".2~f","tickSize":-5,"labelPadding":10,"labelFontSize":31,"title":null,"zindex":1}},
"y2":{"field":"hi"},
"fill":{"field":"lo","type":"quantitative","legend":null,"scale":{"domain":[0.545,0.586,0.6798,0.7735,0.8673,0.9142],"range":["#00008f","#0000ff","#00ffff","#ffff00","#ff0000","#800000"]}}}},
{"data":{"name":"barticks"},"mark":{"type":"rule","color":"black","strokeWidth":1.5},"encoding":{
"y":{"field":"v","type":"quantitative","scale":{"domain":[0.545,0.92],"nice":false,"zero":false},"axis":{"orient":"right","values":[0.55,0.6,0.65,0.7,0.75,0.8,0.85,0.9],"format":".2~f","tickSize":-5,"labelPadding":10,"labelFontSize":31,"title":null,"zindex":1}},
"x":{"datum":0,"type":"quantitative","axis":null,"scale":{"domain":[0,56],"nice":false}},
"x2":{"datum":5}}}
]}
]}
